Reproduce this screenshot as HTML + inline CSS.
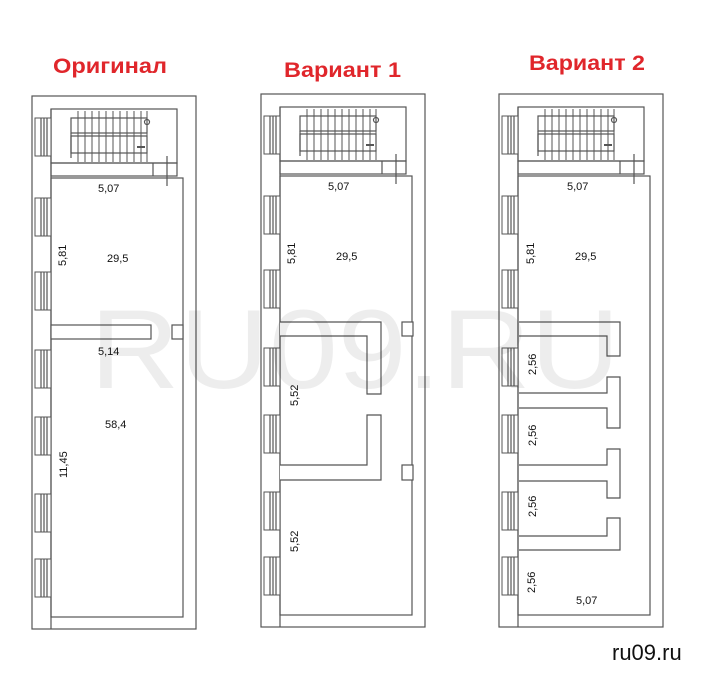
<!DOCTYPE html>
<html><head><meta charset="utf-8"><style>
html,body{margin:0;padding:0;background:#fff;}
svg{display:block;}
text{font-family:"Liberation Sans","DejaVu Sans",sans-serif;}
</style></head><body>
<svg width="712" height="674" viewBox="0 0 712 674" xmlns="http://www.w3.org/2000/svg">
<defs>
<g id="win">
  <rect x="3" y="0" width="16" height="38" fill="#fff" stroke="#555" stroke-width="1"/>
  <line x1="9" y1="0" x2="9" y2="38" stroke="#555"/>
  <line x1="12" y1="0" x2="12" y2="38" stroke="#555"/>
  <line x1="15" y1="0" x2="15" y2="38" stroke="#555"/>
</g>
<g id="plan" fill="none" stroke="#555" stroke-width="1.2">
  <rect x="0" y="0" width="164" height="533" fill="#fff"/>
  <rect x="19" y="82" width="132" height="439"/>
  <line x1="19" y1="13" x2="19" y2="533"/>
  <rect x="19" y="13" width="126" height="54"/>
  <rect x="19" y="67" width="126" height="13"/>
  <line x1="121" y1="67" x2="121" y2="80"/>
  <line x1="135" y1="60" x2="135" y2="90"/>
  <rect x="39" y="22" width="76" height="15"/>
  <rect x="39" y="40" width="76" height="17"/>
  <line x1="39" y1="37" x2="39" y2="62"/>
  <g stroke-width="1">
  <line x1="46" y1="15" x2="46" y2="66"/><line x1="53" y1="15" x2="53" y2="66"/>
  <line x1="60" y1="15" x2="60" y2="66"/><line x1="67" y1="15" x2="67" y2="66"/>
  <line x1="74" y1="15" x2="74" y2="66"/><line x1="81" y1="15" x2="81" y2="66"/>
  <line x1="88" y1="15" x2="88" y2="66"/><line x1="95" y1="15" x2="95" y2="66"/>
  <line x1="102" y1="15" x2="102" y2="66"/><line x1="109" y1="15" x2="109" y2="66"/>
  <line x1="115" y1="15" x2="115" y2="66"/>
  </g>
  <circle cx="115" cy="26" r="2.5"/>
  <line x1="105" y1="51" x2="113" y2="51" stroke-width="2"/>
  <use href="#win" y="22"/><use href="#win" y="102"/><use href="#win" y="176"/>
  <use href="#win" y="254"/><use href="#win" y="321"/><use href="#win" y="398"/>
  <use href="#win" y="463"/>
</g>
</defs>

<g font-weight="bold" fill="#e0262b" font-size="21">
<text x="53" y="73" textLength="114" lengthAdjust="spacingAndGlyphs">Оригинал</text>
<text x="284" y="77" textLength="117" lengthAdjust="spacingAndGlyphs">Вариант 1</text>
<text x="529" y="70" textLength="116" lengthAdjust="spacingAndGlyphs">Вариант 2</text>
</g>

<g transform="translate(32,96)"><use href="#plan"/></g>
<g fill="#fff" stroke="#555" stroke-width="1.2">
<rect x="51" y="325" width="100" height="14"/>
<rect x="172" y="325" width="11" height="14"/>
</g>

<g transform="translate(261,94)"><use href="#plan"/></g>
<g fill="#fff" stroke="#555" stroke-width="1.2">
<path d="M280 322 H381 V394 H367 V336 H280"/>
<path d="M280 465 H367 V415 H381 V480 H280"/>
<rect x="402" y="322" width="11" height="14"/>
<rect x="402" y="465" width="11" height="15"/>
</g>

<g transform="translate(499,94)"><use href="#plan"/></g>
<g fill="#fff" stroke="#555" stroke-width="1.2">
<path d="M519 322 H620 V356 H607 V336 H519"/>
<path d="M519 393 H607 V377 H620 V428 H607 V408 H519"/>
<path d="M519 465 H607 V449 H620 V498 H607 V481 H519"/>
<path d="M519 536 H607 V518 H620 V550 H607 V550 H519"/>
</g>

<text x="355" y="388" font-size="112" fill="#000" fill-opacity="0.07" text-anchor="middle" textLength="530" lengthAdjust="spacingAndGlyphs">RU09.RU</text>

<g font-size="11" fill="#111">
<text x="98" y="192">5,07</text>
<text x="107" y="262">29,5</text>
<text x="98" y="355">5,14</text>
<text x="105" y="428">58,4</text>
<text transform="translate(66,266) rotate(-90)">5,81</text>
<text transform="translate(67,478) rotate(-90)">11,45</text>

<text x="328" y="190">5,07</text>
<text x="336" y="260">29,5</text>
<text transform="translate(295,264) rotate(-90)">5,81</text>
<text transform="translate(298,406) rotate(-90)">5,52</text>
<text transform="translate(298,552) rotate(-90)">5,52</text>

<text x="567" y="190">5,07</text>
<text x="575" y="260">29,5</text>
<text x="576" y="604">5,07</text>
<text transform="translate(534,264) rotate(-90)">5,81</text>
<text transform="translate(536,375) rotate(-90)">2,56</text>
<text transform="translate(536,446) rotate(-90)">2,56</text>
<text transform="translate(536,517) rotate(-90)">2,56</text>
<text transform="translate(535,593) rotate(-90)">2,56</text>
</g>

<text x="612" y="660" font-size="22" fill="#111">ru09.ru</text>
</svg>
</body></html>
